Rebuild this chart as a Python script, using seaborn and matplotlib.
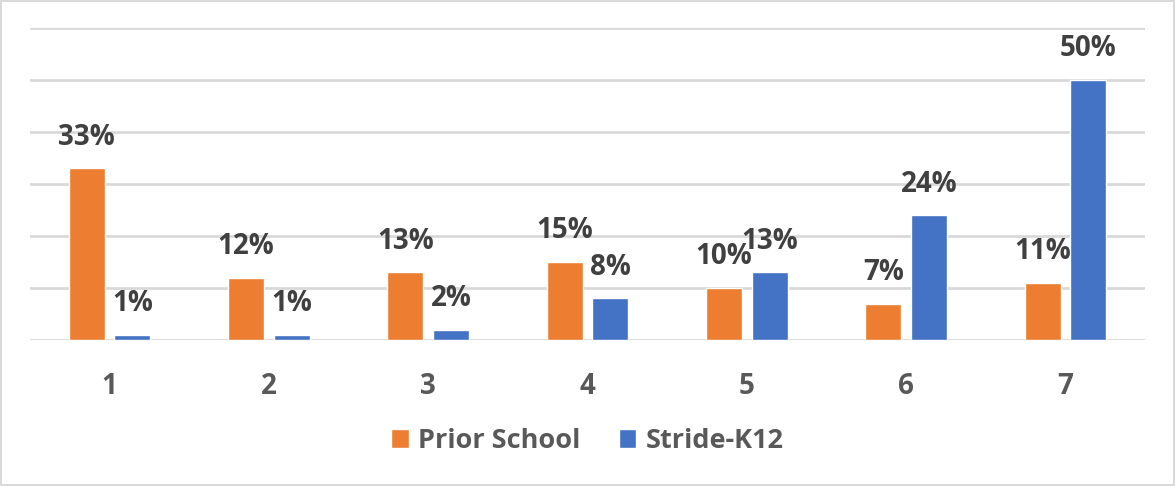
import matplotlib
matplotlib.use("Agg")
import matplotlib.pyplot as plt
import seaborn as sns
import pandas as pd

# Survey groups and share of responses per source
groups = ["1", "2", "3", "4", "5", "6", "7"]
prior_school = [33, 12, 13, 15, 10, 7, 11]
stride_k12 = [1, 1, 2, 8, 13, 24, 50]
series_names = ["Prior School", "Stride-K12"]
series_colors = ["#ED7D31", "#4472C4"]

df = pd.DataFrame({
    "group": groups * 2,
    "value": prior_school + stride_k12,
    "series": [series_names[0]] * len(groups) + [series_names[1]] * len(groups),
})

sns.set_theme(style="white")
plt.rcParams["font.family"] = ["Open Sans", "DejaVu Sans"]

fig = plt.figure(figsize=(11.75, 4.86), dpi=100, linewidth=1.5, edgecolor="#d9d9d9")
ax = fig.add_axes([30 / 1175, 1 - 340 / 486, 1115 / 1175, 312 / 486])

sns.barplot(
    data=df, x="group", y="value", hue="series", order=groups,
    hue_order=series_names, palette=series_colors, width=0.572, gap=0.21,
    edgecolor="white", linewidth=1, saturation=1, ax=ax,
)

ax.set_ylim(0, 60)
ax.set_xlim(-0.5, len(groups) - 0.5)
ax.set_yticks(range(0, 61, 10))
ax.yaxis.grid(True, color="#d9d9d9", linewidth=2)
ax.set_axisbelow(True)
for s in ax.spines.values():
    s.set_visible(False)
ax.tick_params(axis="y", left=False, labelleft=False)
ax.tick_params(axis="x", bottom=False, pad=17, labelsize=20, labelcolor="#595959")
for t in ax.get_xticklabels():
    t.set_fontweight("bold")
ax.set_xlabel("")
ax.set_ylabel("")

for container, vals in zip(ax.containers, [prior_school, stride_k12]):
    ax.bar_label(container, labels=[f"{v}%" for v in vals], padding=12,
                 fontsize=20, fontweight="bold", color="#404040")

handles, labels = ax.get_legend_handles_labels()
ax.legend(handles, labels, loc="center", bbox_to_anchor=(0.5, 1 - 441 / 486),
          bbox_transform=fig.transFigure, ncol=2, frameon=False,
          prop={"size": 19.5, "weight": "bold"}, labelcolor="#595959",
          handlelength=0.65, handleheight=0.65, handletextpad=0.35,
          columnspacing=1.4)

fig.savefig("out.png", dpi=100, edgecolor=fig.get_edgecolor())
